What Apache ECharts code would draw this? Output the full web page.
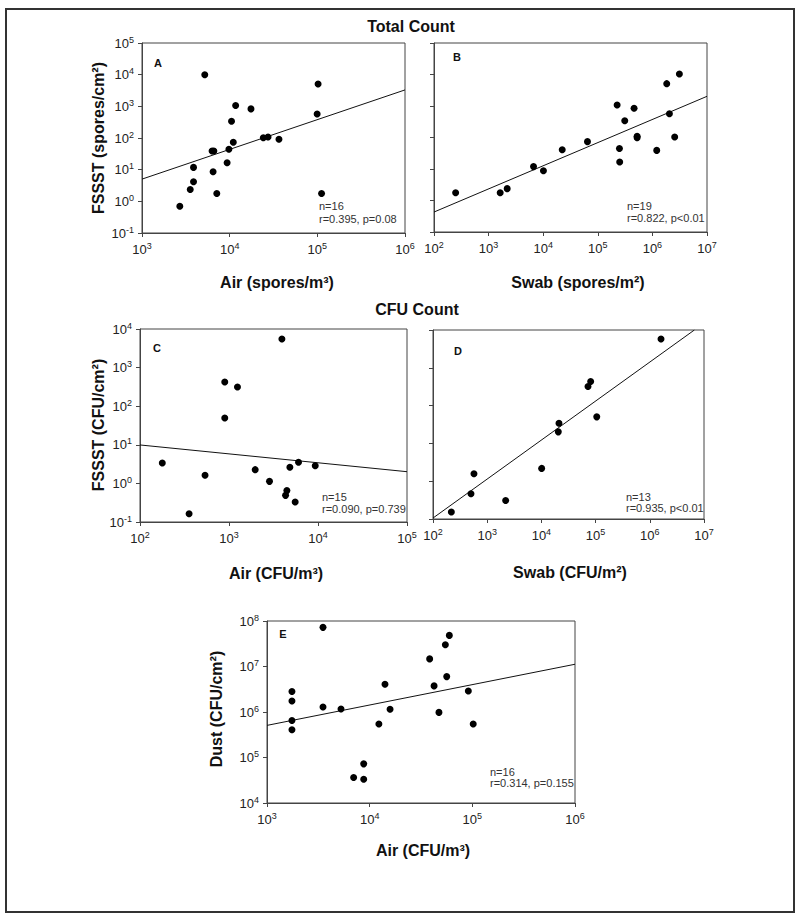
<!DOCTYPE html>
<html>
<head>
<meta charset="utf-8">
<script src="https://cdn.jsdelivr.net/npm/echarts@6/dist/echarts.min.js"></script>
<style>
html,body{margin:0;padding:0;background:#fff;}
#chart{width:800px;height:921px;}
</style>
</head>
<body>
<div id="chart"></div>
<script>
// ---- Data ----
// Panel A: Total count, Air (spores/m3) vs FSSST (spores/cm2)
const aAir   = [5200,102000,11700,17500,99500,10500,24200,27400,36500,11000,6300,6600,9800,9350,3870,6470,3870,3550,7130,111700,2700];
const aFssst = [10000,5100,1060,830,575,340,102,107,91,73,39,39,44,16.6,11.8,8.6,4.15,2.37,1.77,1.77,0.70];
const aFitX = [1000, 1000000];
const aFitY = [5.03, 3300];

// Panel B: Total count, Swab (spores/m2) vs FSSST (spores/cm2)
const bSwab  = [249,1630,2190,6650,10100,22300,64700,226000,312000,462000,249000,252000,525000,525000,1200000,1830000,2050000,2560000,3120000];
const bFssst = [1.77,1.77,2.38,11.9,8.85,41,73.8,1077,342,843,45,16.7,109,99,39,5120,571,104,10400];
const bFitX = [100, 10000000];
const bFitY = [0.43, 2030];

// Panel C: CFU count, Air (CFU/m3) vs FSSST (CFU/cm2)
const cAir   = [3930,896,1245,896,178,538,1970,2850,4830,6040,9310,4470,4320,5540,356];
const cFssst = [5500,424,314,49.4,3.38,1.62,2.27,1.13,2.61,3.52,2.88,0.65,0.49,0.33,0.164];
const cFitX = [100, 100000];
const cFitY = [9.9, 2.01];

// Panel D: CFU count, Swab (CFU/m2) vs FSSST (CFU/cm2)
const dSwab  = [1610000,81100,72400,105000,21100,20500,10100,570,502,2190,218];
const dFssst = [5780,432,319,50.4,34.3,20.2,2.18,1.57,0.467,0.31,0.153];
const dFitX = [100, 6640000];
const dFitY = [0.106, 10000];

// Panel E: Air (CFU/m3) vs Dust (CFU/cm2)
const eAir  = [3510,59700,54600,38400,56300,14100,42400,91400,1750,1750,3510,5260,15800,47300,1750,1750,12300,102000,8750,6980,8750];
const eDust = [7.25e7,4.83e7,3.0e7,1.47e7,6.0e6,4.07e6,3.75e6,2.9e6,2.81e6,1.75e6,1.29e6,1.16e6,1.15e6,9.8e5,6.5e5,4.07e5,5.43e5,5.43e5,7.25e4,3.62e4,3.33e4];
const eFitX = [1000, 1000000];
const eFitY = [5.08e5, 1.12e7];

// Axis ranges
const aXRange = [1e3, 1e6], aYRange = [1e-1, 1e5];
const bXRange = [1e2, 1e7], bYRange = [1e-1, 1e5];
const cXRange = [1e2, 1e5], cYRange = [1e-1, 1e4];
const dXRange = [1e2, 1e7], dYRange = [1e-1, 1e4];
const eXRange = [1e3, 1e6], eYRange = [1e4, 1e8];

// Texts
const titles = ['Total Count', 'CFU Count'];
const panelLetters = ['A', 'B', 'C', 'D', 'E'];
const xTitles = ['Air (spores/m³)', 'Swab (spores/m²)', 'Air (CFU/m³)', 'Swab (CFU/m²)', 'Air (CFU/m³)'];
const yTitles = ['FSSST (spores/cm²)', 'FSSST (CFU/cm²)', 'Dust (CFU/cm²)'];
const statsN = ['n=16', 'n=19', 'n=15', 'n=13', 'n=16'];
const statsR = ['r=0.395, p=0.08', 'r=0.822, p<0.01', 'r=0.090, p=0.739', 'r=0.935, p<0.01', 'r=0.314, p=0.155'];

// ---- Layout ----
const F = 'Liberation Sans, Arial, Helvetica, sans-serif';
const zip = (xs, ys) => xs.map((x, i) => [x, ys[i]]);
const panels = [
  {grid:{left:142,top:43,width:263,height:190}, xr:aXRange, yr:aYRange, yLab:true,  pts:zip(aAir,aFssst), fit:zip(aFitX,aFitY)},
  {grid:{left:434,top:43,width:273,height:189}, xr:bXRange, yr:bYRange, yLab:false, pts:zip(bSwab,bFssst), fit:zip(bFitX,bFitY)},
  {grid:{left:140,top:329,width:267,height:193}, xr:cXRange, yr:cYRange, yLab:true,  pts:zip(cAir,cFssst), fit:zip(cFitX,cFitY)},
  {grid:{left:433,top:330,width:271,height:189}, xr:dXRange, yr:dYRange, yLab:false, pts:zip(dSwab,dFssst), fit:zip(dFitX,dFitY)},
  {grid:{left:267,top:621,width:308,height:182}, xr:eXRange, yr:eYRange, yLab:true,  pts:zip(eAir,eDust), fit:zip(eFitX,eFitY)}
];

const fmt = v => '{b|10}{s|' + Math.round(Math.log10(v)) + '}';
const rich = {
  b: {fontSize: 13, fontFamily: F, color: '#222', lineHeight: 16},
  s: {fontSize: 9, fontFamily: F, color: '#222', verticalAlign: 'top', lineHeight: 9}
};
const axisCol = '#444';
function mkAxis(i, range, showLabel) {
  const span = Math.round(Math.log10(range[1]) - Math.log10(range[0]));
  return {
    type: 'log', logBase: 10, gridIndex: i, min: range[0], max: range[1], splitNumber: span,
    axisLine: {show: true, onZero: false, lineStyle: {color: axisCol, width: 1}},
    axisTick: {show: true, inside: false, length: 4, lineStyle: {color: axisCol, width: 1}},
    minorTick: {show: false}, splitLine: {show: false}, minorSplitLine: {show: false},
    axisLabel: {show: showLabel, formatter: fmt, rich: rich, margin: 8, showMinLabel: true, showMaxLabel: true, hideOverlap: false}
  };
}

const grids = [], xAxes = [], yAxes = [], series = [];
panels.forEach((p, i) => {
  grids.push(Object.assign({show: true, borderColor: axisCol, borderWidth: 1, backgroundColor: 'transparent'}, p.grid));
  xAxes.push(mkAxis(i, p.xr, true));
  yAxes.push(mkAxis(i, p.yr, p.yLab));
  series.push({type: 'scatter', xAxisIndex: i, yAxisIndex: i, data: p.pts, symbol: 'circle', symbolSize: 7,
               itemStyle: {color: '#000', opacity: 1}, silent: true, z: 3});
  series.push({type: 'line', xAxisIndex: i, yAxisIndex: i, data: p.fit, symbol: 'none', clip: true,
               lineStyle: {color: '#111', width: 1}, silent: true, z: 2});
});

function txt(x, y, text, o) {
  o = o || {};
  return {type: 'text', x: x, y: y, rotation: o.rot || 0, silent: true,
    style: {text: text, fontSize: o.size || 11, fontWeight: o.weight || 'normal', fontFamily: F,
      fill: o.color || '#111', align: o.align || 'center', verticalAlign: 'middle',
      textAlign: o.align || 'center', textVerticalAlign: 'middle'}};
}

const graphics = [
  {type: 'rect', shape: {x: 6, y: 9, width: 788, height: 903}, style: {fill: 'none', stroke: '#333', lineWidth: 2}, silent: true},
  txt(411, 26, titles[0], {size: 16, weight: 'bold'}),
  txt(417, 309, titles[1], {size: 16, weight: 'bold'}),
  txt(158, 63, panelLetters[0], {size: 11, weight: 'bold'}),
  txt(457, 57, panelLetters[1], {size: 11, weight: 'bold'}),
  txt(157, 348, panelLetters[2], {size: 11, weight: 'bold'}),
  txt(458, 351, panelLetters[3], {size: 11, weight: 'bold'}),
  txt(283, 634, panelLetters[4], {size: 11, weight: 'bold'}),
  txt(277, 282, xTitles[0], {size: 16, weight: 'bold'}),
  txt(578, 282, xTitles[1], {size: 16, weight: 'bold'}),
  txt(276, 573, xTitles[2], {size: 16, weight: 'bold'}),
  txt(570, 572, xTitles[3], {size: 16, weight: 'bold'}),
  txt(423, 850, xTitles[4], {size: 16, weight: 'bold'}),
  txt(98, 138, yTitles[0], {size: 16, weight: 'bold', rot: Math.PI / 2}),
  txt(98, 425, yTitles[1], {size: 16, weight: 'bold', rot: Math.PI / 2}),
  txt(216, 709, yTitles[2], {size: 16, weight: 'bold', rot: Math.PI / 2})
];
const statPos = [[319, 206, 219], [627, 206, 218], [322, 497, 509], [626, 497, 508], [490, 772, 783]];
statPos.forEach((s, i) => {
  graphics.push(txt(s[0], s[1], statsN[i], {size: 11, color: '#333', align: 'left'}));
  graphics.push(txt(s[0], s[2], statsR[i], {size: 11, color: '#333', align: 'left'}));
});

const chart = echarts.init(document.getElementById('chart'), null, {renderer: 'svg', width: 800, height: 921});
chart.setOption({
  animation: false,
  backgroundColor: '#fff',
  grid: grids, xAxis: xAxes, yAxis: yAxes, series: series,
  graphic: graphics
});
</script>
</body>
</html>
